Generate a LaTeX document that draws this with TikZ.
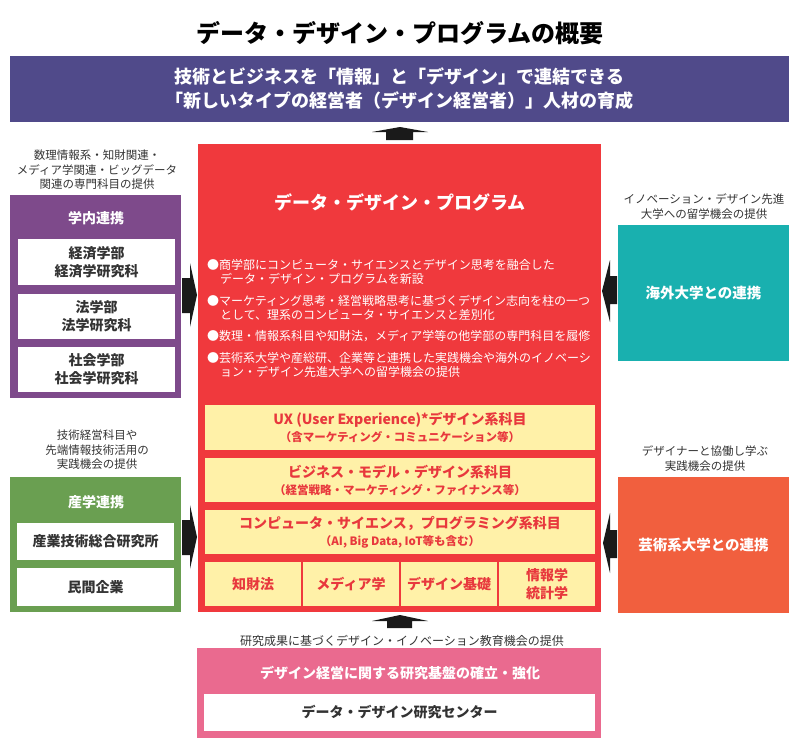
\documentclass[tikz,border=0pt]{standalone}
\usepackage{fontspec}
\setmainfont{Noto Sans CJK JP}
\definecolor{bannerc}{HTML}{504A8A}
\definecolor{centerc}{HTML}{F0393D}
\definecolor{purplec}{HTML}{7E4A8B}
\definecolor{tealc}{HTML}{19B0AF}
\definecolor{greenc}{HTML}{6A9F51}
\definecolor{orangec}{HTML}{F15F3E}
\definecolor{pinkc}{HTML}{EA6A8F}
\definecolor{yellowc}{HTML}{FFF1A8}
\definecolor{redtext}{HTML}{E8383D}
\definecolor{arrowc}{HTML}{1A1A1A}
\definecolor{darktext}{HTML}{333333}
\newcommand\jfs[2]{\fontsize{#1}{#2}\selectfont}
\begin{document}
\begin{tikzpicture}[x=1pt,y=-1pt,
  box/.style={rectangle,draw=none,inner sep=0pt,outer sep=0pt,align=center},
  whitebox/.style={box,fill=white,text=darktext,font=\jfs{14}{18}\bfseries},
  ybox/.style={box,fill=yellowc,text=redtext,font=\jfs{14}{17}\bfseries},
  caption/.style={align=center,inner sep=0pt,text=darktext,font=\jfs{11.5}{14.5}},
  bullet/.style={anchor=west,inner sep=0pt,text=white,font=\jfs{12}{14}},
  blockarrow/.style={fill=arrowc}]
\useasboundingbox (0,0) rectangle (800,750);
% title
\node[inner sep=0pt,font=\jfs{24}{28}\bfseries] (title) at (400,33) {データ・デザイン・プログラムの概要};
% banner
\node[box,fill=bannerc,text=white,minimum width=779pt,minimum height=66pt,font=\jfs{18}{24}\bfseries] (banner) at (399.5,89)
  {技術とビジネスを「情報」と「デザイン」で連結できる\\「新しいタイプの経営者（デザイン経営者）」人材の育成};
% center program box
\node[box,fill=centerc,minimum width=403pt,minimum height=468pt] (prog) at (399.5,378) {};
\node[inner sep=0pt,text=white,font=\jfs{18}{22}\bfseries] (progtitle) at (400,202) {データ・デザイン・プログラム};
\node[bullet] (b1a) at (207,265) {●商学部にコンピュータ・サイエンスとデザイン思考を融合した};
\node[bullet] (b1b) at (220,279) {データ・デザイン・プログラムを新設};
\node[bullet] (b2a) at (207,301) {●マーケティング思考・経営戦略思考に基づくデザイン志向を柱の一つ};
\node[bullet] (b2b) at (220,315) {として、理系のコンピュータ・サイエンスと差別化};
\node[bullet] (b3a) at (207,336) {●数理・情報系科目や知財法，メディア学等の他学部の専門科目を履修};
\node[bullet] (b4a) at (207,358) {●芸術系大学や産総研、企業等と連携した実践機会や海外のイノベーシ};
\node[bullet] (b4b) at (220,372) {ョン・デザイン先進大学への留学機会の提供};
% yellow course boxes
\node[ybox,minimum width=390pt,minimum height=45pt] (ux) at (400,427.5)
  {UX (User Experience)*デザイン系科目\\{\jfs{11.5}{14}（含マーケティング・コミュニケーション等）}};
\node[ybox,minimum width=390pt,minimum height=44pt] (biz) at (400,480)
  {ビジネス・モデル・デザイン系科目\\{\jfs{11.5}{14}（経営戦略・マーケティング・ファイナンス等）}};
\node[ybox,minimum width=390pt,minimum height=44pt] (cs) at (400,532)
  {コンピュータ・サイエンス，プログラミング系科目\\{\jfs{11.5}{14}（AI, Big Data, IoT等も含む）}};
\node[ybox,minimum width=96pt,minimum height=44pt] (ip) at (253,584) {知財法};
\node[ybox,minimum width=96pt,minimum height=44pt] (media) at (351,584) {メディア学};
\node[ybox,minimum width=96pt,minimum height=44pt] (design) at (449,584) {デザイン基礎};
\node[ybox,minimum width=96pt,minimum height=44pt,font=\jfs{14}{18}\bfseries] (info) at (547,584) {情報学\\統計学};
% left top: internal collaboration
\node[caption] (capl1) at (97,170) {数理情報系・知財関連・\\メディア学関連・ビッグデータ\\関連の専門科目の提供};
\node[box,fill=purplec,minimum width=171pt,minimum height=203pt] (inner) at (95.5,296.5) {};
\node[inner sep=0pt,text=white,font=\jfs{14}{18}\bfseries] (innertitle) at (96,218) {学内連携};
\node[whitebox,minimum width=157pt,minimum height=46pt] (econ) at (96.5,262) {経済学部\\経済学研究科};
\node[whitebox,minimum width=157pt,minimum height=45pt] (law) at (96.5,316) {法学部\\法学研究科};
\node[whitebox,minimum width=157pt,minimum height=45pt] (soc) at (96.5,369.5) {社会学部\\社会学研究科};
% left bottom: industry collaboration
\node[caption] (capl2) at (97,450) {技術経営科目や\\先端情報技術活用の\\実践機会の提供};
\node[box,fill=greenc,minimum width=171pt,minimum height=135pt] (indus) at (95.5,544.5) {};
\node[inner sep=0pt,text=white,font=\jfs{14}{18}\bfseries] (industitle) at (96,502) {産学連携};
\node[whitebox,minimum width=157pt,minimum height=37pt] (aist) at (95.5,541.5) {産業技術総合研究所};
\node[whitebox,minimum width=157pt,minimum height=38pt] (firms) at (95.5,587) {民間企業};
% right top: overseas
\node[caption] (capr1) at (704,206.5) {イノベーション・デザイン先進\\大学への留学機会の提供};
\node[box,fill=tealc,text=white,minimum width=171pt,minimum height=136pt,font=\jfs{14.5}{18}\bfseries] (overseas) at (703.5,293) {海外大学との連携};
% right bottom: art universities
\node[caption] (capr2) at (705,458.5) {デザイナーと協働し学ぶ\\実践機会の提供};
\node[box,fill=orangec,text=white,minimum width=171pt,minimum height=136pt,font=\jfs{14.5}{18}\bfseries] (art) at (703.5,545) {芸術系大学との連携};
% bottom: research center
\node[caption,font=\jfs{12}{14}] (capb) at (402,641) {研究成果に基づくデザイン・イノベーション教育機会の提供};
\node[box,fill=pinkc,minimum width=404pt,minimum height=90pt] (research) at (399,693) {};
\node[inner sep=0pt,text=white,font=\jfs{14}{18}\bfseries] (researchtitle) at (400,673) {デザイン経営に関する研究基盤の確立・強化};
\node[whitebox,minimum width=391pt,minimum height=37pt] (center) at (399.5,712.5) {データ・デザイン研究センター};
% block arrows
\fill[blockarrow] (400,127) -- (428,132) -- (413,132) -- (413,140) -- (386,140) -- (386,132) -- (372,132) -- cycle;
\fill[blockarrow] (400,615) -- (428,621) -- (412,621) -- (412,628) -- (387,628) -- (387,621) -- (372,621) -- cycle;
\fill[blockarrow] (197,295) -- (190,327) -- (190,313) -- (182,313) -- (182,278) -- (190,278) -- (190,263) -- cycle;
\fill[blockarrow] (197,537) -- (190,569) -- (190,555) -- (182,555) -- (182,520) -- (190,520) -- (190,505) -- cycle;
\fill[blockarrow] (602,291) -- (610,322) -- (610,304) -- (617,304) -- (617,276) -- (610,276) -- (610,260) -- cycle;
\fill[blockarrow] (603,543) -- (610,573) -- (610,558) -- (617,558) -- (617,530) -- (610,530) -- (610,513) -- cycle;
\end{tikzpicture}
\end{document}
